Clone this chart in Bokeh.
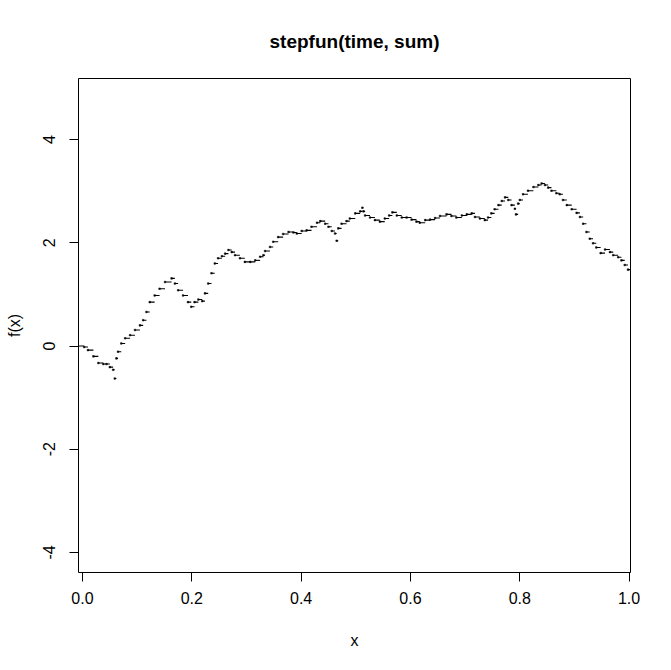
from bokeh.plotting import figure
from bokeh.models import FixedTicker, Range1d, ColumnDataSource
from bokeh.embed import file_html
from bokeh.resources import INLINE

# knots of the step function (time) and the value taken after each knot (sum)
time = [0.003, 0.010, 0.020, 0.029, 0.038, 0.044, 0.050, 0.056, 0.059, 0.062,
        0.065, 0.071, 0.078, 0.087, 0.096, 0.105, 0.111, 0.117, 0.123, 0.132,
        0.141, 0.151, 0.163, 0.169, 0.175, 0.184, 0.193, 0.199, 0.205, 0.212,
        0.219, 0.224, 0.230, 0.236, 0.242, 0.248, 0.255, 0.261, 0.267, 0.273,
        0.279, 0.288, 0.297, 0.307, 0.316, 0.325, 0.331, 0.334, 0.343, 0.349,
        0.358, 0.367, 0.377, 0.386, 0.392, 0.401, 0.410, 0.419, 0.429, 0.435,
        0.444, 0.450, 0.456, 0.462, 0.465, 0.468, 0.474, 0.483, 0.489, 0.499,
        0.508, 0.512, 0.514, 0.517, 0.526, 0.535, 0.544, 0.553, 0.561, 0.567,
        0.575, 0.584, 0.593, 0.602, 0.611, 0.617, 0.627, 0.636, 0.645, 0.654,
        0.666, 0.675, 0.684, 0.694, 0.703, 0.712, 0.718, 0.727, 0.736, 0.742,
        0.748, 0.754, 0.761, 0.767, 0.773, 0.779, 0.785, 0.791, 0.793, 0.797,
        0.800, 0.806, 0.815, 0.825, 0.834, 0.840, 0.846, 0.852, 0.858, 0.867,
        0.873, 0.879, 0.886, 0.895, 0.904, 0.910, 0.916, 0.922, 0.928, 0.934,
        0.940, 0.948, 0.956, 0.965, 0.971, 0.980, 0.986, 0.992, 0.998]
sum_ = [-0.02, -0.08, -0.20, -0.33, -0.35, -0.35, -0.41, -0.46, -0.63, -0.24,
        -0.11, 0.05, 0.15, 0.21, 0.31, 0.40, 0.50, 0.66, 0.85, 0.98,
        1.11, 1.24, 1.31, 1.21, 1.08, 0.98, 0.85, 0.76, 0.85, 0.90,
        0.87, 1.02, 1.21, 1.41, 1.60, 1.70, 1.74, 1.79, 1.86, 1.82,
        1.76, 1.70, 1.63, 1.63, 1.66, 1.73, 1.76, 1.84, 1.92, 2.02,
        2.11, 2.17, 2.21, 2.20, 2.18, 2.23, 2.24, 2.31, 2.39, 2.42,
        2.37, 2.31, 2.23, 2.18, 2.04, 2.28, 2.37, 2.42, 2.47, 2.57,
        2.61, 2.68, 2.61, 2.53, 2.49, 2.44, 2.41, 2.47, 2.53, 2.59,
        2.53, 2.49, 2.49, 2.45, 2.41, 2.39, 2.44, 2.45, 2.48, 2.52,
        2.55, 2.52, 2.49, 2.53, 2.55, 2.57, 2.50, 2.47, 2.44, 2.49,
        2.57, 2.65, 2.73, 2.81, 2.88, 2.83, 2.73, 2.66, 2.55, 2.76,
        2.83, 2.94, 3.01, 3.08, 3.12, 3.15, 3.12, 3.07, 3.01, 2.96,
        2.94, 2.83, 2.73, 2.65, 2.58, 2.50, 2.37, 2.21, 2.08, 1.99,
        1.91, 1.80, 1.87, 1.82, 1.76, 1.72, 1.66, 1.57, 1.48]
left_value = 0.0

x_ticks = [0.0, 0.2, 0.4, 0.6, 0.8, 1.0]
x_tick_labels = ["0.0", "0.2", "0.4", "0.6", "0.8", "1.0"]
y_ticks = [-4, -2, 0, 2, 4]
y_tick_labels = ["-4", "-2", "0", "2", "4"]

XMIN, XMAX = -0.0073, 1.0026
YMIN, YMAX = -4.389, 5.184

FONT = "Liberation Sans"

p = figure(frame_width=552, frame_height=494,
           x_range=Range1d(XMIN, XMAX), y_range=Range1d(YMIN, YMAX),
           output_backend="svg", toolbar_location=None,
           title="stepfun(time, sum)",
           min_border_left=78, min_border_top=78,
           min_border_right=33, min_border_bottom=90,
           background_fill_color="white", border_fill_color="white")

p.title.text_font = FONT
p.title.text_font_size = "19px"
p.title.text_font_style = "bold"
p.title.align = "center"
p.title.text_color = "black"
p.title.standoff = 53

p.outline_line_color = "black"
p.outline_line_width = 1
p.xgrid.visible = False
p.ygrid.visible = False

# horizontal pieces of the step function
seg_x0 = [XMIN] + time
seg_x1 = time + [XMAX]
seg_y = [left_value] + sum_
src_seg = ColumnDataSource(dict(x0=seg_x0, x1=seg_x1, y=seg_y))
p.segment(x0="x0", y0="y", x1="x1", y1="y", source=src_seg,
          line_color="black", line_width=1.1)

src_pts = ColumnDataSource(dict(x=time, y=sum_))
p.scatter(x="x", y="y", source=src_pts, marker="square", size=1.6,
          fill_color="black", line_color="black", line_width=0.5)

for ax in (p.xaxis[0], p.yaxis[0]):
    ax.axis_line_color = None
    ax.major_tick_line_color = "black"
    ax.major_tick_out = 9
    ax.major_tick_in = 0
    ax.minor_tick_line_color = None
    ax.major_label_text_font = FONT
    ax.major_label_text_font_size = "16px"
    ax.major_label_text_color = "black"
    ax.axis_label_text_font = FONT
    ax.axis_label_text_font_size = "16px"
    ax.axis_label_text_font_style = "normal"
    ax.axis_label_text_color = "black"

p.xaxis.ticker = FixedTicker(ticks=x_ticks)
p.xaxis.major_label_overrides = {t: s for t, s in zip(x_ticks, x_tick_labels)}
p.xaxis.axis_label = "x"
p.xaxis.major_label_standoff = 10
p.xaxis.axis_label_standoff = 25

p.yaxis.ticker = FixedTicker(ticks=y_ticks)
p.yaxis.major_label_overrides = {t: s for t, s in zip(y_ticks, y_tick_labels)}
p.yaxis.major_label_orientation = "vertical"
p.yaxis.axis_label = "f(x)"
p.yaxis.major_label_standoff = 14
p.yaxis.axis_label_standoff = 18

open("out.html", "w").write(file_html(p, INLINE))
